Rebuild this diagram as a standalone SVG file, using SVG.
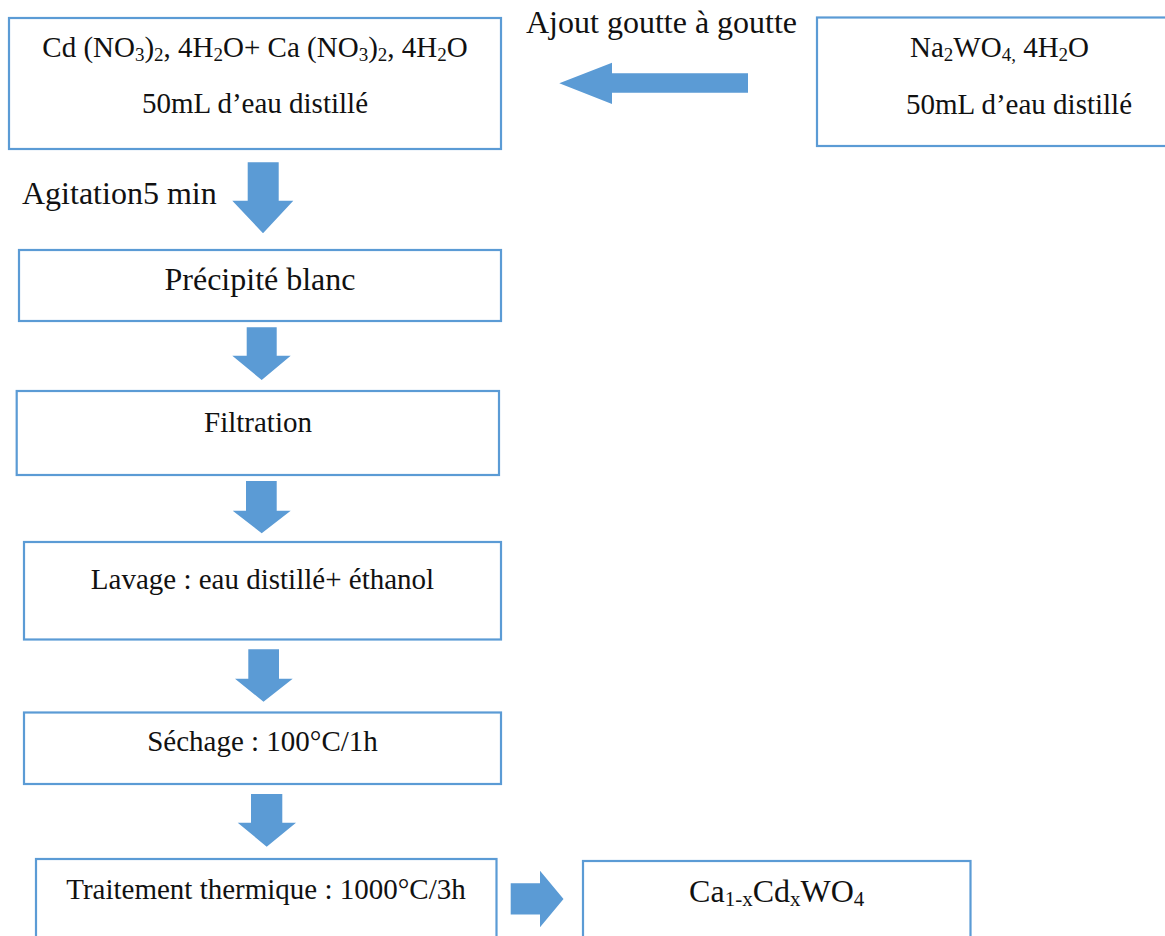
<svg xmlns="http://www.w3.org/2000/svg" width="1165" height="936" viewBox="0 0 1165 936">
<defs>
<style>
.box{fill:#fff;stroke:#5B9BD5;stroke-width:2.2}
.arr{fill:#5B9BD5;stroke:none}
text{font-family:"Liberation Serif","Times New Roman",serif;fill:#111}
.t29{font-size:29px}
.t32{font-size:32px}
.c{text-anchor:middle}
.sub{font-size:19px}
.sub2{font-size:21px}
</style>
</defs>
<rect width="1165" height="936" fill="#fff"/>
<g id="connectors">
<polygon class="arr" points="748,73.3 612,73.3 612,62.7 559.3,83.3 612,104 612,92.7 748,92.7"/>
<polygon class="arr" points="247.7,162.3 278.7,162.3 278.7,200.7 293.3,200.7 263,233.3 232.3,200.7 247.7,200.7"/>
<polygon class="arr" points="246.7,327.3 276.7,327.3 276.7,355.7 290.7,355.7 261.7,380 232.3,355.7 246.7,355.7"/>
<polygon class="arr" points="246,481 276.7,481 276.7,510.7 290.7,510.7 261.7,533.3 232.7,510.7 246,510.7"/>
<polygon class="arr" points="248.3,649.3 279,649.3 279,678.7 292.7,678.7 263.5,701.7 235,678.7 248.3,678.7"/>
<polygon class="arr" points="251,794 282.3,794 282.3,822.7 296,822.7 266.7,846.7 237.7,822.7 251,822.7"/>
<polygon class="arr" points="510.7,883.3 540,883.3 540,870.7 563.5,899 540,927.3 540,914.5 510.7,914.5"/>
</g>
<g id="label-ajout">
<text class="t32" x="526" y="33">Ajout goutte à goutte</text>
</g>
<g id="label-agitation">
<text class="t32" x="22" y="204">Agitation5 min</text>
</g>
<g id="node-reactifs">
<rect class="box" x="9" y="18" width="492" height="131"/>
<text class="t29 c" x="255" y="57">Cd (NO<tspan class="sub" dy="4">3</tspan><tspan dy="-4">)</tspan><tspan class="sub" dy="4">2</tspan><tspan dy="-4">, 4H</tspan><tspan class="sub" dy="4">2</tspan><tspan dy="-4">O+ Ca (NO</tspan><tspan class="sub" dy="4">3</tspan><tspan dy="-4">)</tspan><tspan class="sub" dy="4">2</tspan><tspan dy="-4">, 4H</tspan><tspan class="sub" dy="4">2</tspan><tspan dy="-4">O</tspan></text>
<text class="t29 c" x="255" y="113">50mL d’eau distillé</text>
</g>
<g id="node-na2wo4">
<rect class="box" x="817" y="17.5" width="360" height="128.5"/>
<text class="t29" x="910" y="57">Na<tspan class="sub" dy="4">2</tspan><tspan dy="-4">WO</tspan><tspan class="sub" dy="4">4,</tspan><tspan dy="-4"> 4H</tspan><tspan class="sub" dy="4">2</tspan><tspan dy="-4">O</tspan></text>
<text class="t29" x="906" y="114">50mL d’eau distillé</text>
</g>
<g id="node-precipite">
<rect class="box" x="19" y="250" width="482" height="71"/>
<text class="t32 c" x="260" y="290">Précipité blanc</text>
</g>
<g id="node-filtration">
<rect class="box" x="16.7" y="391" width="482.3" height="84"/>
<text class="t29 c" x="258" y="431.5">Filtration</text>
</g>
<g id="node-lavage">
<rect class="box" x="24" y="542" width="477" height="97.5"/>
<text class="t29 c" x="262.5" y="589">Lavage : eau distillé+ éthanol</text>
</g>
<g id="node-sechage">
<rect class="box" x="24" y="712.5" width="477" height="71.5"/>
<text class="t29 c" x="262.5" y="751">Séchage : 100°C/1h</text>
</g>
<g id="node-traitement">
<rect class="box" x="36" y="859" width="460.5" height="90"/>
<text class="t29 c" x="266" y="898.5">Traitement thermique : 1000°C/3h</text>
</g>
<g id="node-produit">
<rect class="box" x="583" y="861" width="387.5" height="90"/>
<text class="t32 c" x="776.7" y="901.5">Ca<tspan class="sub2" dy="4">1-x</tspan><tspan dy="-4">Cd</tspan><tspan class="sub2" dy="4">x</tspan><tspan dy="-4">WO</tspan><tspan class="sub2" dy="4">4</tspan></text>
</g>
</svg>
